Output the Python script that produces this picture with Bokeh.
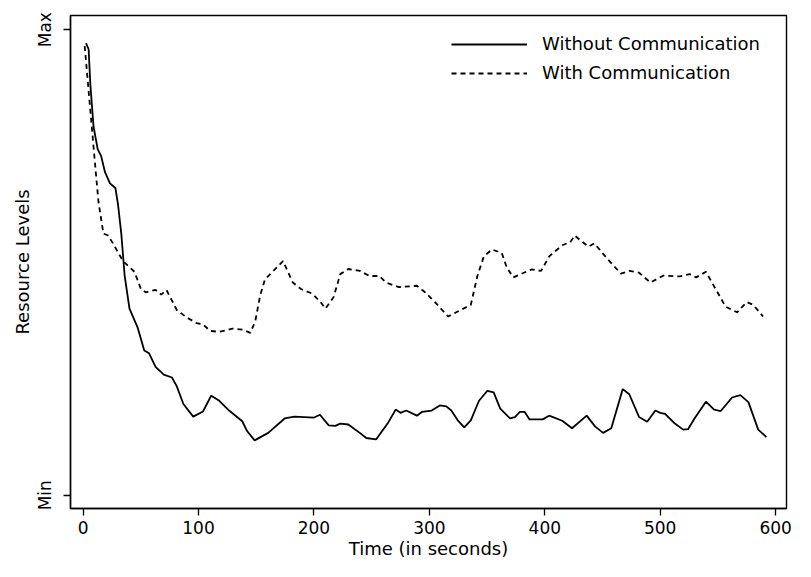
from bokeh.plotting import figure
from bokeh.models import FixedTicker, Legend, LegendItem, Range1d
from bokeh.embed import file_html
from bokeh.resources import INLINE

# Without Communication (solid)
t_without = [2.5, 4.8, 6.3, 9.1, 12.7, 15.6, 19.0, 23.3, 28.0, 30.3, 33.1, 36.0, 40.2, 47.3,
             53.0, 57.2, 62.8, 69.9, 77.0, 81.2, 86.9, 95.4, 103.9, 111.0, 118.0, 126.5, 137.9,
             142.1, 148.6, 160.4, 174.6, 183.1, 200.1, 205.2, 212.8, 218.5, 222.8, 229.8, 239.7,
             245.3, 253.8, 263.8, 270.8, 275.0, 279.9, 289.2, 293.5, 302.0, 309.0, 314.7, 319.0,
             324.6, 330.2, 335.9, 343.0, 350.1, 355.7, 361.4, 369.9, 374.1, 378.4, 382.6, 386.8,
             398.1, 403.8, 415.1, 423.6, 436.3, 443.5, 450.5, 457.6, 467.5, 473.2, 481.7, 488.7,
             495.8, 500.0, 504.2, 512.7, 519.9, 524.1, 529.7, 539.6, 546.7, 552.4, 562.3, 569.4,
             576.4, 584.9, 592.0]
v_without = [97.1, 95.8, 88.2, 79.1, 74.3, 72.9, 69.4, 67.0, 66.0, 62.4, 56.2, 47.2, 40.1, 36.0,
             31.1, 30.5, 27.6, 25.9, 25.3, 23.4, 19.6, 16.9, 18.0, 21.4, 20.3, 18.2, 15.9,
             13.8, 11.8, 13.4, 16.5, 16.9, 16.7, 17.3, 15.0, 14.9, 15.4, 15.2, 13.4,
             12.3, 12.0, 15.4, 18.4, 17.7, 18.2, 17.1, 17.9, 18.2, 19.3, 19.1, 18.2,
             16.1, 14.6, 16.1, 20.3, 22.4, 22.1, 18.6, 16.5, 16.8, 17.9, 17.9, 16.3,
             16.3, 17.1, 16.0, 14.4, 17.1, 14.8, 13.4, 14.4, 22.8, 21.7, 16.8, 15.8,
             18.2, 17.7, 17.5, 15.4, 14.1, 14.2, 16.5, 20.1, 18.4, 18.1, 21.0, 21.5,
             20.0, 14.1, 12.5]

# With Communication (dashed)
t_with = [1.4, 6.3, 10.5, 13.3, 17.6, 21.8, 27.5, 34.6, 44.5, 50.1, 54.3, 62.8, 67.7, 72.2,
          81.2, 89.7, 98.2, 103.9, 110.1, 118.0, 129.4, 137.9, 144.9, 149.2, 153.4, 157.6,
          166.1, 173.2, 181.7, 188.8, 198.6, 205.8, 210.0, 217.1, 222.8, 229.8, 239.7, 248.2,
          256.7, 262.3, 273.7, 289.2, 296.3, 304.8, 316.1, 321.7, 335.9, 341.6, 347.2, 354.3,
          362.8, 367.1, 372.7, 388.3, 396.8, 403.8, 415.1, 422.2, 425.9, 430.7, 437.8, 442.9,
          447.7, 454.8, 466.0, 473.2, 481.7, 491.5, 502.9, 517.0, 525.5, 531.2, 539.6, 549.6,
          556.6, 566.6, 575.0, 580.6, 589.1]
v_with = [96.5, 82.6, 70.8, 63.1, 56.2, 55.8, 53.4, 50.3, 48.0, 44.3, 43.6, 44.1, 43.1, 44.1,
          39.8, 38.2, 37.0, 36.7, 35.3, 35.1, 35.8, 35.6, 34.9, 37.4, 42.9, 46.4,
          48.5, 50.3, 45.7, 44.3, 43.3, 41.5, 40.1, 42.6, 47.5, 48.6, 48.2, 47.1,
          47.1, 45.7, 44.7, 45.0, 43.6, 41.5, 38.4, 39.1, 40.9, 47.1, 51.3, 52.8,
          52.0, 48.9, 46.8, 48.5, 48.2, 51.3, 53.7, 54.4, 55.8, 54.8, 53.4, 54.1,
          52.7, 50.6, 47.6, 48.2, 47.8, 45.7, 47.2, 47.0, 47.5, 46.8, 48.0, 43.6,
          40.5, 39.3, 41.5, 40.9, 38.4]

x_ticks = [0, 100, 200, 300, 400, 500, 600]
y_ticks = [0, 100]
y_tick_labels = {0: "Min", 100: "Max"}
series_names = ["Without Communication", "With Communication"]

FONT = "DejaVu Sans"

p = figure(width=795, height=561, output_backend="svg", toolbar_location=None,
           x_range=Range1d(-10.9, 609.4), y_range=Range1d(-2.84, 103.05),
           min_border_left=70, min_border_right=9, min_border_top=15, min_border_bottom=53)
p.background_fill_color = "white"
p.border_fill_color = "white"
p.outline_line_color = "black"
p.outline_line_width = 1.4
p.xgrid.visible = False
p.ygrid.visible = False

r1 = p.line(t_without, v_without, line_color="black", line_width=1.8)
r2 = p.line(t_with, v_with, line_color="black", line_width=1.8, line_dash="5 4")

for ax in (p.xaxis[0], p.yaxis[0]):
    ax.axis_line_color = "black"
    ax.axis_line_width = 1.4
    ax.major_tick_line_color = "black"
    ax.major_tick_line_width = 1.3
    ax.major_tick_out = 7
    ax.major_tick_in = 0
    ax.minor_tick_line_color = None
    ax.major_label_text_font = FONT
    ax.major_label_text_font_size = "17px"
    ax.major_label_text_color = "black"
    ax.axis_label_text_font = FONT
    ax.axis_label_text_font_size = "18px"
    ax.axis_label_text_font_style = "normal"
    ax.axis_label_text_color = "black"

p.xaxis.ticker = FixedTicker(ticks=x_ticks)
p.xaxis.axis_label = "Time (in seconds)"
p.xaxis.major_label_standoff = 5
p.xaxis.axis_label_standoff = 1

p.yaxis.ticker = FixedTicker(ticks=y_ticks)
p.yaxis.major_label_overrides = y_tick_labels
p.yaxis.major_label_orientation = "vertical"
p.yaxis.axis_label = "Resource Levels"
p.yaxis.major_label_standoff = 8
p.yaxis.axis_label_standoff = 0

legend = Legend(items=[LegendItem(label=series_names[0], renderers=[r1]),
                       LegendItem(label=series_names[1], renderers=[r2])],
                location=(381, 425), orientation="vertical")
legend.border_line_color = None
legend.background_fill_alpha = 0
legend.padding = 0
legend.margin = 0
legend.spacing = 8
legend.glyph_width = 76
legend.glyph_height = 20
legend.label_height = 20
legend.label_standoff = 15
legend.label_text_font = FONT
legend.label_text_font_size = "18px"
legend.label_text_color = "black"
p.add_layout(legend, "center")

open("out.html", "w").write(file_html(p, INLINE))
